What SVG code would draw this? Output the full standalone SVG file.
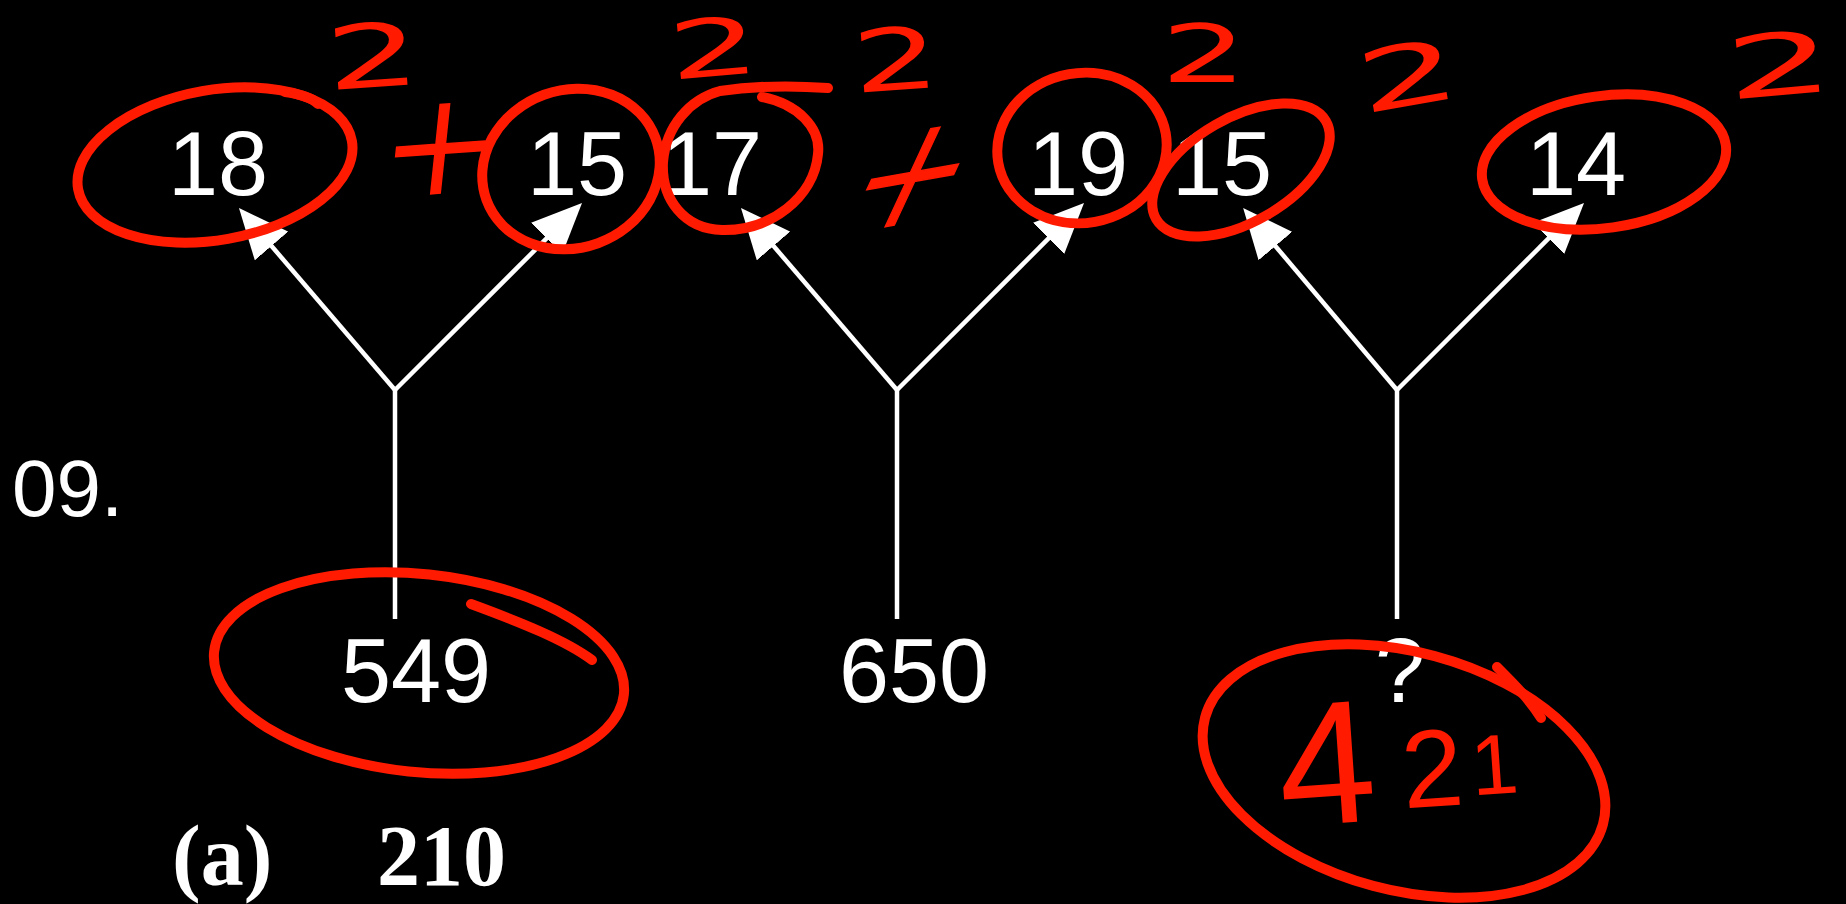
<svg xmlns="http://www.w3.org/2000/svg" width="1846" height="904" viewBox="0 0 1846 904">
<style>
.num{font-family:"Liberation Sans",Arial,sans-serif;font-size:90px;fill:#fff;text-anchor:middle}
.wl{stroke:#fff;stroke-width:4.5;fill:none}
.ink{stroke:#ff1a00;stroke-width:10;fill:none;stroke-linecap:round;stroke-linejoin:round}
.hw{font-family:"DejaVu Sans",sans-serif;fill:#ff1a00;text-anchor:middle}
.plus{font-family:"Liberation Serif","Times New Roman",serif;fill:#ff1a00;text-anchor:middle;font-size:190px;stroke:#ff1a00;stroke-width:1.5}
</style>
<defs>
<marker id="ah" markerUnits="userSpaceOnUse" markerWidth="50" markerHeight="44" refX="20" refY="22" orient="auto">
<path d="M0,0 L50,22 L0,44 Z" fill="#fff"/>
</marker>
</defs>
<rect width="1846" height="904" fill="#000"/>
<g id="connectors">
<line class="wl" x1="395" y1="619" x2="395" y2="390"/>
<line class="wl" x1="395" y1="390" x2="258.5" y2="230.8" marker-end="url(#ah)"/>
<line class="wl" x1="395" y1="390" x2="560.8" y2="224.2" marker-end="url(#ah)"/>
<line class="wl" x1="897" y1="619" x2="897" y2="390"/>
<line class="wl" x1="897" y1="390" x2="760.5" y2="230.8" marker-end="url(#ah)"/>
<line class="wl" x1="897" y1="390" x2="1062.8" y2="224.2" marker-end="url(#ah)"/>
<line class="wl" x1="1397" y1="619" x2="1397" y2="390"/>
<line class="wl" x1="1397" y1="390" x2="1262.5" y2="230.8" marker-end="url(#ah)"/>
<line class="wl" x1="1397" y1="390" x2="1562.8" y2="224.2" marker-end="url(#ah)"/>
</g>
<g id="n-18"><text class="num" x="218" y="195">18</text></g>
<g id="n-15a"><text class="num" x="577" y="195">15</text></g>
<g id="n-17"><text class="num" x="712" y="195">17</text></g>
<g id="n-19"><text class="num" x="1078" y="195">19</text></g>
<g id="n-15b"><text class="num" x="1222" y="195">15</text></g>
<g id="n-14"><text class="num" x="1576" y="195">14</text></g>
<g id="n-549"><text class="num" x="416" y="702">549</text></g>
<g id="n-650"><text class="num" x="914" y="702">650</text></g>
<g id="n-q"><text class="num" x="1400" y="702">?</text></g>
<g id="question-no"><text x="12" y="516" style="font-family:'Liberation Sans',Arial,sans-serif;font-size:80px;fill:#fff">09.</text></g>
<g id="option-a"><text y="885" style="font-family:'Liberation Serif','Times New Roman',serif;font-size:86px;font-weight:bold;fill:#fff"><tspan x="172">(a)</tspan><tspan x="377">210</tspan></text></g>
<g id="annotations">
<ellipse class="ink" cx="215" cy="165" rx="139" ry="75" transform="rotate(-10 215 165)"/>
<path class="ink" d="M285,92 C300,94 312,98 318,104"/>
<ellipse class="ink" cx="571" cy="169" rx="90" ry="79" transform="rotate(-20 571 169)"/>
<path class="ink" d="M762,97 C798,104 821,128 818,154 C814,198 770,231 722,230 C684,229 661,199 663,162 C666,126 690,99 720,91 C760,85 800,86 828,88"/>
<ellipse class="ink" cx="1082" cy="148" rx="85" ry="75" transform="rotate(-10 1082 148)"/>
<ellipse class="ink" cx="1241" cy="170" rx="98" ry="52" transform="rotate(-30 1241 170)"/>
<ellipse class="ink" cx="1604" cy="162" rx="123" ry="66" transform="rotate(-8 1604 162)"/>
<ellipse class="ink" cx="419" cy="673" rx="206" ry="99" transform="rotate(6 419 673)"/>
<path class="ink" d="M471,604 C520,622 565,640 592,660"/>
<ellipse class="ink" cx="1404" cy="771" rx="206" ry="119" transform="rotate(15 1404 771)"/>
<path class="ink" d="M1497,667 C1515,685 1530,700 1541,718"/>
<text class="hw" font-size="88" transform="translate(375,87) rotate(-4) scale(1.7,1)">2</text>
<text class="hw" font-size="80" transform="translate(716,76) rotate(-5) scale(1.8,1)">2</text>
<text class="hw" font-size="86" transform="translate(898,90) rotate(-4) scale(1.6,1)">2</text>
<text class="hw" font-size="80" transform="translate(1204,82) scale(1.7,1)">2</text>
<text class="hw" font-size="85" transform="translate(1413,105) rotate(-10) scale(1.9,1)">2</text>
<text class="hw" font-size="86" transform="translate(1782,95) rotate(-5) scale(2,1)">2</text>
<text class="plus" transform="translate(440,150) rotate(-4) skewX(-10)" y="62">+</text>
<text class="plus" transform="translate(912,178) rotate(-10) skewX(-35)" y="62">+</text>
<text style="font-family:'Liberation Sans',Arial,sans-serif;fill:#ff1a00" transform="translate(1282,827) rotate(-4)"><tspan font-size="175">4</tspan><tspan font-size="110" dx="26" dy="-10">2</tspan><tspan font-size="85" dx="8" dy="-8">1</tspan></text>
</g>
</svg>
